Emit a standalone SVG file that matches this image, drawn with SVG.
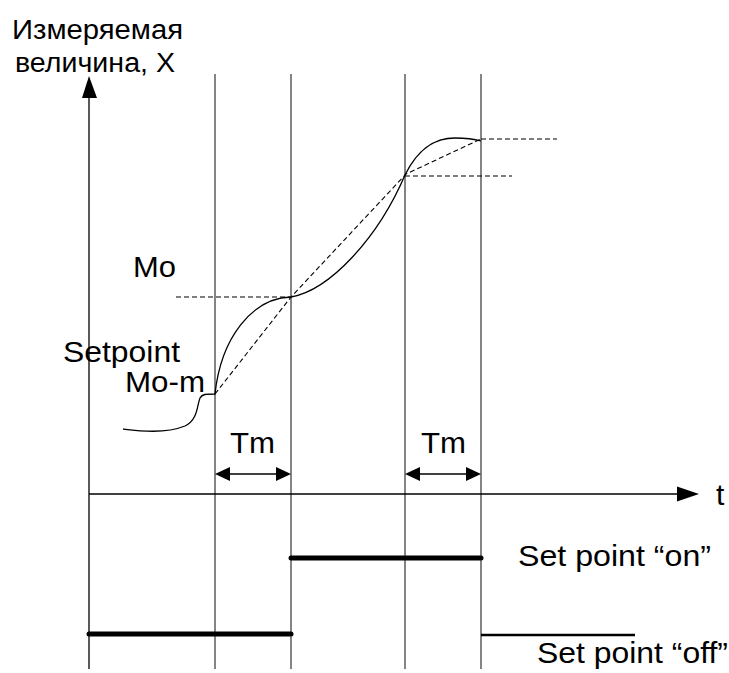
<svg xmlns="http://www.w3.org/2000/svg" width="729" height="673" viewBox="0 0 729 673">
<style>
text{font-family:"Liberation Sans",Arial,sans-serif;font-size:30px;fill:#000}
.ylab{font-size:27px}
.grid{stroke:#333;stroke-width:1.2;fill:none}
.axis{stroke:#000;stroke-width:1.3;fill:none}
.dash{stroke:#000;stroke-width:1.1;stroke-dasharray:5 3;fill:none}
.curve{stroke:#000;stroke-width:1.3;fill:none}
.bar{stroke:#000;stroke-width:5;stroke-linecap:round;fill:none}
.thin{stroke:#000;stroke-width:2.4;fill:none}
.head{fill:#000;stroke:none}
</style>
<rect width="729" height="673" fill="#fff"/>
<g id="grid">
<line class="grid" x1="215" y1="74" x2="215" y2="669"/>
<line class="grid" x1="291" y1="74" x2="291" y2="669"/>
<line class="grid" x1="405" y1="74" x2="405" y2="669"/>
<line class="grid" x1="481" y1="74" x2="481" y2="669"/>
</g>
<g id="axes">
<line class="axis" x1="89" y1="96" x2="89" y2="669"/>
<polygon class="head" points="89,76 82,98 97,98"/>
<line class="axis" x1="89" y1="494" x2="680" y2="494"/>
<polygon class="head" points="699,494 677,486.5 677,501.5"/>
</g>
<g id="y-label">
<text class="ylab" x="12" y="39" textLength="171" lengthAdjust="spacingAndGlyphs">Измеряемая</text>
<text class="ylab" x="15" y="72" textLength="160" lengthAdjust="spacingAndGlyphs">величина, X</text>
</g>
<g id="t-label"><text x="716" y="505">t</text></g>
<g id="connectors">
<path class="dash" d="M176,297 H291"/>
<path class="dash" d="M405,176 H512"/>
<path class="dash" d="M481,139 H557"/>
<path class="dash" d="M215,394 L291,297 L406,174 L481,139"/>
<g id="tm1">
<line class="axis" x1="225" y1="474" x2="281" y2="474"/>
<polygon class="head" points="215,474 230,467 230,481"/>
<polygon class="head" points="291,474 276,467 276,481"/>
</g>
<g id="tm2">
<line class="axis" x1="415" y1="474" x2="471" y2="474"/>
<polygon class="head" points="405,474 420,467 420,481"/>
<polygon class="head" points="481,474 466,467 466,481"/>
</g>
</g>
<g id="measured-curve">
<path class="curve" d="M123,429 C140,431 165,434 185,426 C198,420 197,405 200,398 C202,394 206,394 215,394 C221,338 252,298 291,297 C330,290 378,238 405,175 C420,145 438,138 455,138 C466,138 474,139 481,141"/>
</g>
<g id="labels">
<text x="133" y="277" textLength="43" lengthAdjust="spacingAndGlyphs">Mo</text>
<text x="63" y="362" textLength="117" lengthAdjust="spacingAndGlyphs">Setpoint</text>
<text x="125" y="392" textLength="80" lengthAdjust="spacingAndGlyphs">Mo-m</text>
<text x="230" y="453" textLength="45" lengthAdjust="spacingAndGlyphs">Tm</text>
<text x="421" y="453" textLength="45" lengthAdjust="spacingAndGlyphs">Tm</text>
</g>
<g id="setpoint-on">
<line class="bar" x1="291" y1="558" x2="481" y2="558"/>
<text x="518" y="566" textLength="193" lengthAdjust="spacingAndGlyphs">Set point “on”</text>
</g>
<g id="setpoint-off">
<line class="bar" x1="89" y1="634" x2="291" y2="634"/>
<line class="thin" x1="481" y1="635" x2="635" y2="635"/>
<text x="537" y="663" textLength="191" lengthAdjust="spacingAndGlyphs">Set point “off”</text>
</g>
</svg>
